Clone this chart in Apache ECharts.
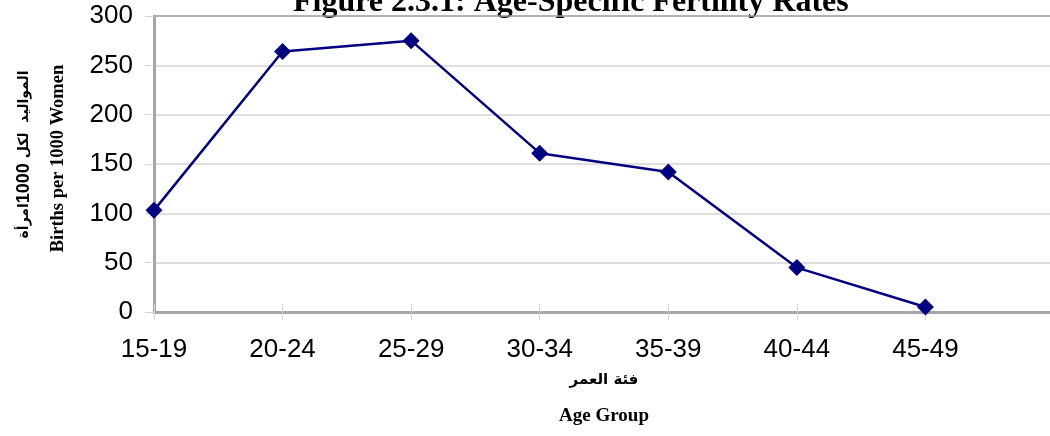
<!DOCTYPE html>
<html>
<head>
<meta charset="utf-8">
<script src="https://cdn.jsdelivr.net/npm/echarts@6/dist/echarts.min.js"></script>
<style>
html,body{margin:0;padding:0;background:#fff;}
#chart{width:1050px;height:436px;}
</style>
</head>
<body>
<div id="chart"></div>
<script>
var categories = ['15-19', '20-24', '25-29', '30-34', '35-39', '40-44', '45-49', ''];
var fertilityRates = [103, 264, 275, 161, 142, 45, 5];
var yTicks = { min: 0, max: 300, interval: 50 };
var titleText = 'Figure 2.3.1: Age-Specific Fertility Rates';
var yTitleEn = 'Births per 1000 Women';
var yTitleArParts = ['امرأة', '1000', ' المواليد  لكل'];
var xTitleAr = 'فئة العمر';
var xTitleEn = 'Age Group';

var chart = echarts.init(document.getElementById('chart'), null, { renderer: 'canvas' });
var option = {
  animation: false,
  backgroundColor: '#fff',
  grid: { left: 154, top: 16, right: -4, bottom: 124, containLabel: false, outerBoundsMode: 'none' },
  xAxis: [{
    type: 'category',
    data: categories,
    boundaryGap: false,
    position: 'bottom',
    axisLine: { show: true, lineStyle: { color: '#a6a6a6', width: 3 } },
    axisTick: { show: true, alignWithLabel: true, length: 8, lineStyle: { color: '#d4d4d4', width: 1 } },
    axisLabel: { show: true, margin: 25, color: '#000', fontSize: 26, fontFamily: '"Liberation Sans", Arial, sans-serif' },
    splitLine: { show: false }
  }, {
    type: 'category',
    data: categories,
    boundaryGap: false,
    position: 'bottom',
    axisLine: { show: false },
    axisTick: { show: true, inside: true, length: 8, lineStyle: { color: '#d4d4d4', width: 1 } },
    axisLabel: { show: false },
    splitLine: { show: false }
  }],
  yAxis: {
    type: 'value',
    min: yTicks.min,
    max: yTicks.max,
    interval: yTicks.interval,
    axisLine: { show: true, lineStyle: { color: '#a6a6a6', width: 3 } },
    axisTick: { show: true, length: 9, lineStyle: { color: '#d4d4d4', width: 1 } },
    axisLabel: { margin: 21, color: '#000', fontSize: 26, fontFamily: '"Liberation Sans", Arial, sans-serif' },
    splitLine: { show: true, lineStyle: { color: ['#d4d4d4', '#d4d4d4', '#d4d4d4', '#d4d4d4', '#d4d4d4', '#d4d4d4', '#999999'], width: 1.5 } }
  },
  series: [{
    type: 'line',
    xAxisIndex: 0,
    data: fertilityRates,
    symbol: 'diamond',
    symbolSize: [17, 17],
    showAllSymbol: true,
    lineStyle: { color: '#000080', width: 2.5 },
    itemStyle: { color: '#000080' },
    z: 5
  }],
  graphic: [
    { type: 'text', x: 293, y: 3, style: { text: titleText, x: 0, y: 0, align: 'left', verticalAlign: 'middle', textAlign: 'left', textVerticalAlign: 'middle', font: 'bold 32px "Liberation Serif", "Times New Roman", serif', fill: '#000' } },
    { type: 'text', x: 58, y: 158.5, rotation: Math.PI / 2, style: { text: yTitleEn, x: 0, y: 0, align: 'center', verticalAlign: 'middle', textAlign: 'center', textVerticalAlign: 'middle', font: 'bold 18.5px "Liberation Serif", "Times New Roman", serif', fill: '#000' } },
    { type: 'text', x: 24, y: 154.5, rotation: Math.PI / 2, style: {
        text: '{ar|' + yTitleArParts[0] + '}{num|' + yTitleArParts[1] + '}{ar|' + yTitleArParts[2] + '}',
        x: 0, y: 0, align: 'center', verticalAlign: 'middle', textAlign: 'center', textVerticalAlign: 'middle',
        rich: {
          ar: { fontFamily: '"DejaVu Sans", "Noto Sans", sans-serif', fontWeight: 'bold', fontSize: 14, fill: '#000', color: '#000' },
          num: { fontFamily: '"Liberation Sans", Arial, sans-serif', fontWeight: 'bold', fontSize: 18, fill: '#000', color: '#000' }
        },
        fill: '#000' } },
    { type: 'text', x: 604, y: 380, style: { text: xTitleAr, x: 0, y: 0, align: 'center', verticalAlign: 'middle', textAlign: 'center', textVerticalAlign: 'middle', font: 'bold 15px "DejaVu Sans", "Noto Sans", sans-serif', fill: '#000' } },
    { type: 'text', x: 604, y: 416.5, style: { text: xTitleEn, x: 0, y: 0, align: 'center', verticalAlign: 'middle', textAlign: 'center', textVerticalAlign: 'middle', font: 'bold 19px "Liberation Serif", "Times New Roman", serif', fill: '#000' } }
  ]
};
chart.setOption(option);
</script>
</body>
</html>
